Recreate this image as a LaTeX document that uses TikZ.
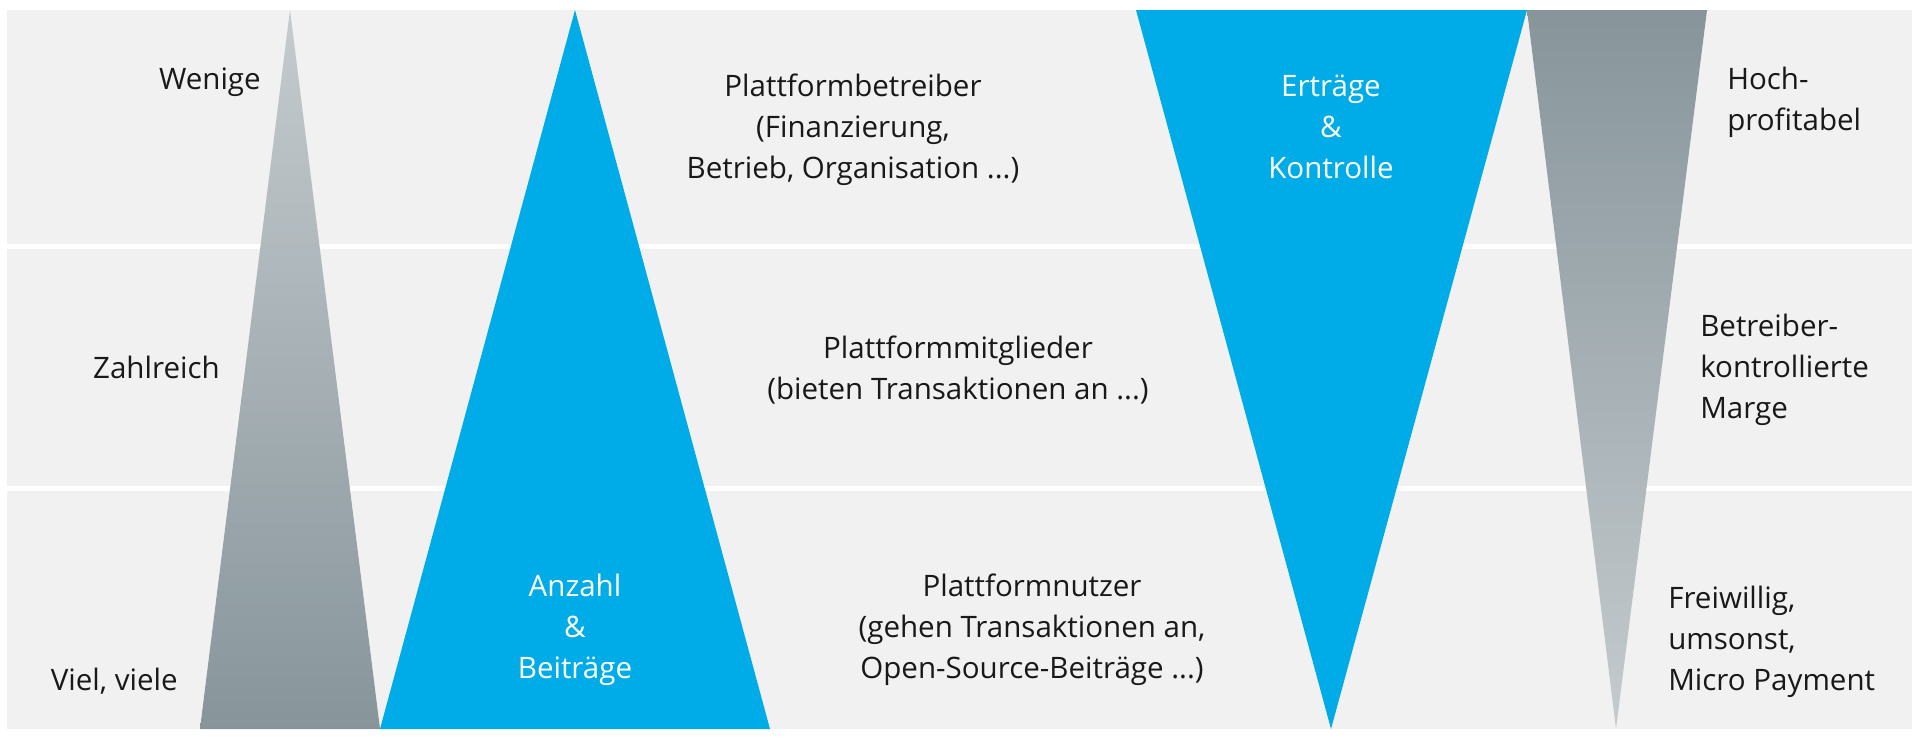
\documentclass[tikz,border=0pt]{standalone}
\usepackage{fontspec}
\setmainfont{Open Sans}
\usetikzlibrary{positioning}
\definecolor{bandgray}{RGB}{241,241,241}
\definecolor{platblue}{RGB}{0,172,232}
\definecolor{trilight}{RGB}{197,203,206}
\definecolor{tridark}{RGB}{135,149,155}
\definecolor{txt}{RGB}{25,25,25}

\begin{document}
\begin{tikzpicture}[x=0.025cm, y=-0.025cm,
    band/.style = {fill=bandgray, draw=none},
    lbl/.style = {font=\fontsize{21}{29}\selectfont, text=txt,
      inner sep=0pt, align=left},
    ctr/.style = {lbl, align=center},
    wlbl/.style = {ctr, text=white},
  ]
\useasboundingbox (0,0) rectangle (1920,739);
\fill[white] (0,0) rectangle (1920,739);
% three bands
\fill[band] (7,10)  rectangle (1912,244);
\fill[band] (7,249) rectangle (1912,486);
\fill[band] (7,491) rectangle (1912,729);
% triangles
\shade[top color=trilight, bottom color=tridark]
    (290,10) -- (380,729) -- (200,729) -- cycle;
\fill[platblue] (575,10) -- (770,729) -- (380,729) -- cycle;
\fill[platblue] (1136,10) -- (1527,10) -- (1331,729) -- cycle;
\shade[top color=tridark, bottom color=trilight]
    (1527,10) -- (1707,10) -- (1616,729) -- cycle;
% left scale
\node[lbl, anchor=east] (wenige) at (261,82) {Wenige};
\node[lbl, anchor=east] (zahl) at (220,367) {Zahlreich};
\node[lbl, anchor=east] (viele) at (178,681) {Viel, viele};
% blue labels
\node[wlbl] (anzahl) at (575,630) {Anzahl\\\&\\Beiträge};
\node[wlbl] (ertrag) at (1331,127) {Erträge\\\&\\Kontrolle};
% roles
\node[ctr] (betreiber) at (853,130)
    {Plattformbetreiber\\(Finanzierung,\\Betrieb, Organisation ...)};
\node[ctr] (mitglieder) at (958,370)
    {Plattformmitglieder\\(bieten Transaktionen an ...)};
\node[ctr] (nutzer) at (1032,630)
    {Plattformnutzer\\(gehen Transaktionen an,\\Open-Source-Beiträge ...)};
% right scale
\node[lbl, anchor=west] (hoch) at (1727,102) {Hoch-\\profitabel};
\node[lbl, anchor=west] (marge) at (1700,370)
    {Betreiber-\\kontrollierte\\Marge};
\node[lbl, anchor=west] (frei) at (1668,642)
    {Freiwillig,\\umsonst,\\Micro Payment};
\end{tikzpicture}
\end{document}
